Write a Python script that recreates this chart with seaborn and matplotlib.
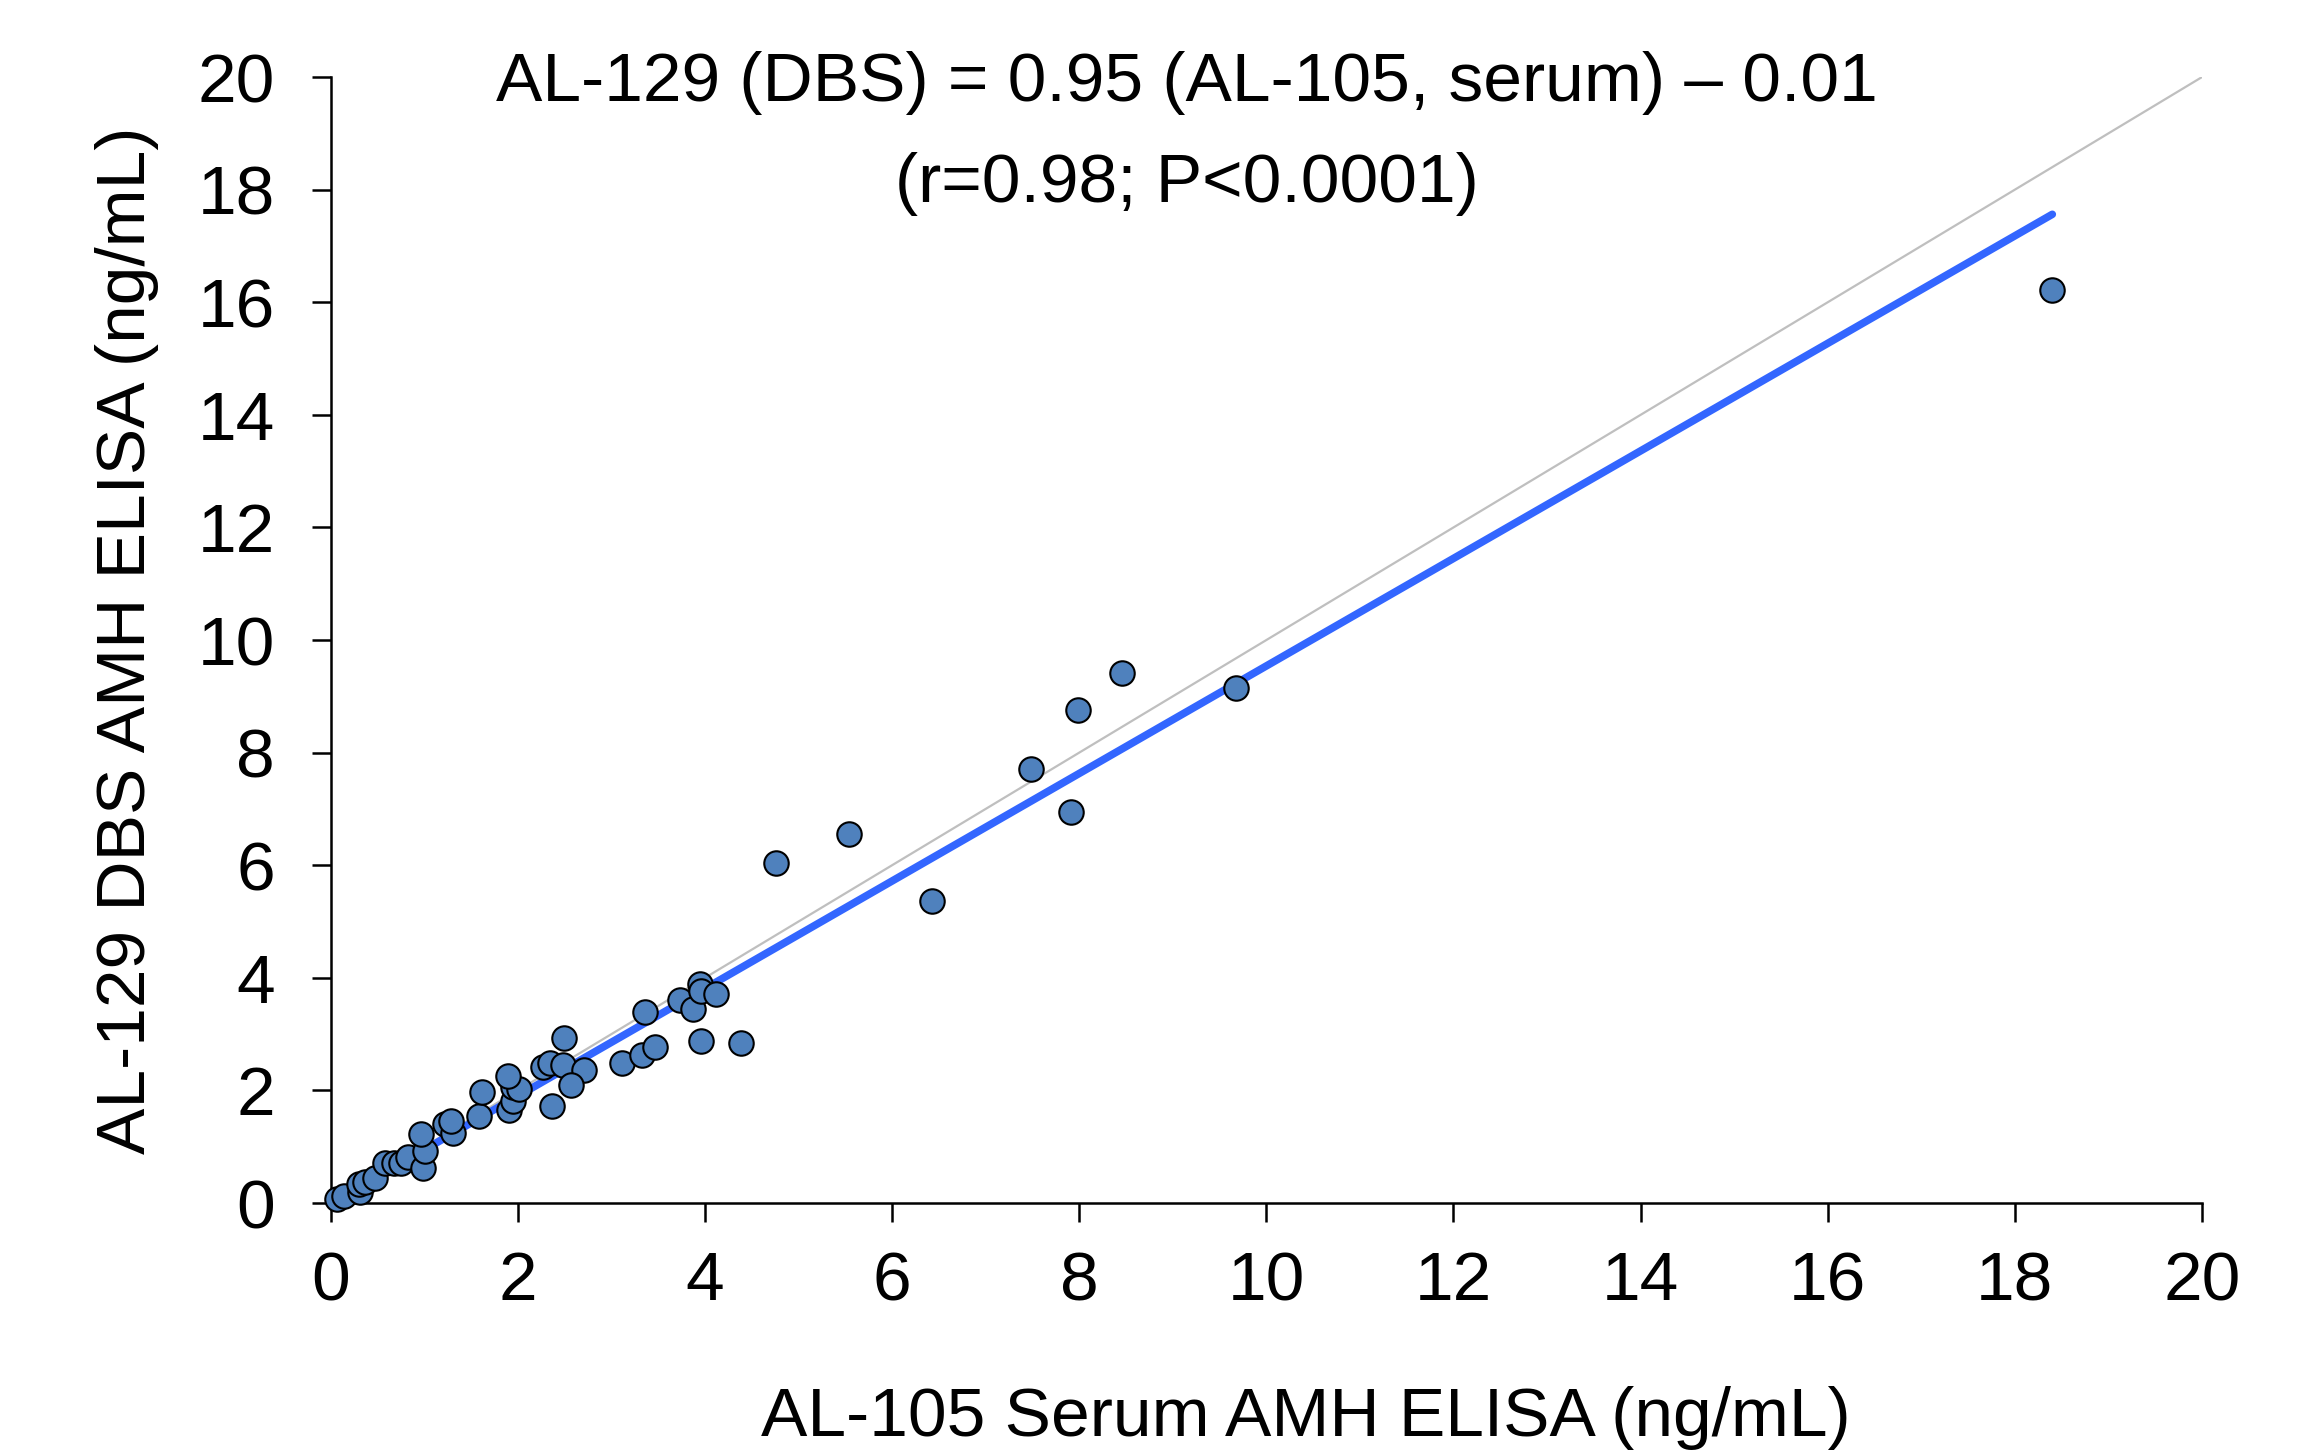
import numpy as np
import pandas as pd
import matplotlib
matplotlib.use("Agg")
import matplotlib.pyplot as plt
import seaborn as sns

# AL-105 serum (x) vs AL-129 DBS (y), ng/mL
serum = [0.07, 0.14, 0.31, 0.30, 0.37, 0.47, 0.58, 0.68, 0.75, 0.83,
         0.99, 1.01, 0.97, 1.22, 1.31, 1.29, 1.59, 1.62, 1.91, 1.95,
         1.95, 2.01, 1.89, 2.27, 2.34, 2.48, 2.71, 2.57, 2.37, 2.49,
         3.11, 3.33, 3.47, 3.36, 3.73, 3.87, 3.95, 3.96, 4.12, 3.96,
         4.39, 4.76, 5.54, 6.43, 7.49, 7.91, 7.99, 8.46, 9.68, 18.40]
dbs = [0.07, 0.13, 0.19, 0.34, 0.38, 0.45, 0.72, 0.72, 0.72, 0.81,
       0.63, 0.93, 1.22, 1.40, 1.25, 1.45, 1.54, 1.98, 1.66, 1.81,
       2.07, 2.02, 2.25, 2.42, 2.48, 2.45, 2.36, 2.10, 1.72, 2.94,
       2.48, 2.63, 2.78, 3.40, 3.60, 3.45, 3.89, 3.77, 3.72, 2.87,
       2.85, 6.04, 6.55, 5.36, 7.71, 6.94, 8.76, 9.41, 9.14, 16.21]

# regression line as drawn in the figure
fit_slope = 0.955
fit_intercept = -0.01
identity = [0, 20]

eq_line1 = "AL-129 (DBS) = 0.95 (AL-105, serum) \u2013 0.01"
eq_line2 = "(r=0.98; P<0.0001)"

df = pd.DataFrame({"serum": serum, "dbs": dbs})
fit_x = np.array([min(serum), max(serum)])
fit_df = pd.DataFrame({"x": fit_x, "y": fit_slope * fit_x + fit_intercept})
id_df = pd.DataFrame({"x": identity, "y": identity})

sns.set_style("white")
plt.rcParams["font.family"] = ["Liberation Sans", "DejaVu Sans"]
plt.rcParams["text.color"] = "black"
plt.rcParams["axes.labelcolor"] = "black"
plt.rcParams["xtick.color"] = "black"
plt.rcParams["ytick.color"] = "black"

fig = plt.figure(figsize=(23.14, 14.54), dpi=100)
ax = fig.add_axes([0.1429, 0.1726, 0.8087, 0.7744])

sns.lineplot(data=id_df, x="x", y="y", ax=ax, color="#BFBFBF", linewidth=1.6)
sns.lineplot(data=fit_df, x="x", y="y", ax=ax, color="#3366FF", linewidth=5.5,
             solid_capstyle="round")
sns.scatterplot(data=df, x="serum", y="dbs", ax=ax, s=310, color="#4F81BD",
                edgecolor="black", linewidth=1.5, zorder=5, clip_on=False)

ax.set_xlim(0, 20)
ax.set_ylim(0, 20)
ax.set_xticks(range(0, 21, 2))
ax.set_yticks(range(0, 21, 2))
ax.tick_params(axis="x", direction="out", length=14, width=1.8, labelsize=50,
               pad=20, bottom=True)
ax.tick_params(axis="y", direction="out", length=14, width=1.8, labelsize=50,
               pad=26, left=True)
for side in ["top", "right"]:
    ax.spines[side].set_visible(False)
for side in ["left", "bottom"]:
    ax.spines[side].set_linewidth(1.8)
    ax.spines[side].set_color("black")

ax.set_xlabel("AL-105 Serum AMH ELISA (ng/mL)", fontsize=50, labelpad=52)
ax.xaxis.label.set_x(0.521)
ax.set_ylabel("AL-129 DBS AMH ELISA (ng/mL)", fontsize=50, labelpad=28)

ax.text(9.15, 19.9, eq_line1, ha="center", va="center", fontsize=50)
ax.text(9.15, 18.1, eq_line2, ha="center", va="center", fontsize=50)

fig.savefig("out.png", dpi=100, facecolor="white")
